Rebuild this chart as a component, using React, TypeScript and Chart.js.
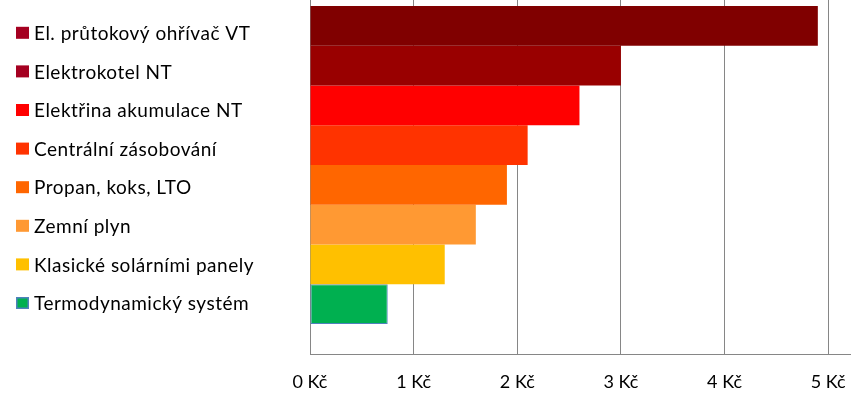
import React, { useEffect, useRef } from "react";
import { Chart, registerables } from "chart.js";

Chart.register(...registerables);

const categories = [
  "El. průtokový ohřívač VT",
  "Elektrokotel NT",
  "Elektřina akumulace NT",
  "Centrální zásobování",
  "Propan, koks, LTO",
  "Zemní plyn",
  "Klasické solárními panely",
  "Termodynamický systém",
];
const costs = [4.9, 3.0, 2.6, 2.1, 1.9, 1.6, 1.3, 0.75];
const barColors = ["#800000", "#990000", "#FF0000", "#FF3300", "#FF6600", "#FF9933", "#FFC000", "#00B050"];
const legendColors = ["#A50021", "#A50021", "#FF0000", "#FF3300", "#FF6600", "#FF9933", "#FFC000", "#00B050"];
const outlineColors = [null, null, null, null, null, null, null, "#4F81BD"];
const axisMax = 5.22;
const tickStep = 1;
const currency = "Kč";

const FONT = "Lato, 'Open Sans', sans-serif";
const CANVAS_OFFSET = 24;
const W = 851;
const H = 396 + CANVAS_OFFSET;

const sideLegend = {
  id: "sideLegend",
  afterDraw(chart: any) {
    const ctx = chart.ctx;
    ctx.save();
    ctx.font = `19px ${FONT}`;
    try {
      (ctx as any).letterSpacing = "0.5px";
    } catch (e) {}
    ctx.textBaseline = "middle";
    ctx.textAlign = "left";
    chart.data.datasets.forEach((ds: any, i: number) => {
      const cy = CANVAS_OFFSET + 32.8 + i * 38.6;
      const bx = 16;
      const bw = 13;
      const bh = 12;
      const by = cy - bh / 2;
      ctx.fillStyle = legendColors[i];
      ctx.fillRect(bx, by, bw, bh);
      if (outlineColors[i]) {
        ctx.strokeStyle = outlineColors[i] as string;
        ctx.lineWidth = 1.5;
        ctx.strokeRect(bx + 0.75, by + 0.75, bw - 1.5, bh - 1.5);
      }
      ctx.fillStyle = "#000000";
      ctx.fillText(ds.label, 34, cy + 1);
    });
    ctx.restore();
  },
};

export default function App() {
  const canvasRef = useRef<HTMLCanvasElement | null>(null);

  useEffect(() => {
    if (!canvasRef.current) return;
    const chart = new Chart(canvasRef.current, {
      type: "bar",
      data: {
        labels: [""],
        datasets: categories.map((label, i) => ({
          label,
          data: [costs[i]],
          backgroundColor: barColors[i],
          borderColor: outlineColors[i] || barColors[i],
          borderWidth: outlineColors[i] ? 1 : 0,
          borderSkipped: false,
          categoryPercentage: 0.8413,
          barPercentage: 1,
        })),
      },
      options: {
        indexAxis: "y",
        responsive: false,
        maintainAspectRatio: false,
        devicePixelRatio: 1,
        animation: false,
        layout: { padding: { left: 310, right: 0, top: 0, bottom: 0 } },
        plugins: {
          legend: { display: false },
          tooltip: { enabled: false },
        },
        scales: {
          x: {
            type: "linear",
            min: 0,
            max: axisMax,
            afterFit: (scale: any) => {
              scale.height = 42;
              scale.paddingRight = 0;
              scale.paddingLeft = 0;
            },
            ticks: {
              stepSize: tickStep,
              includeBounds: false,
              callback: (v: any) => `${v} ${currency}`,
              font: { family: FONT, size: 18 },
              color: "#000000",
              padding: 17,
              maxRotation: 0,
            },
            grid: { color: "#868686", lineWidth: 1, drawTicks: false },
            border: { color: "#868686", width: 1 },
          },
          y: {
            type: "category",
            display: false,
          },
        },
      },
      plugins: [sideLegend],
    });
    return () => chart.destroy();
  }, []);

  return (
    <div
      style={{
        position: "fixed",
        left: 0,
        top: -CANVAS_OFFSET,
        width: W,
        height: H,
        background: "#ffffff",
      }}
    >
      <canvas ref={canvasRef} width={W} height={H} style={{ width: W, height: H, display: "block" }} />
    </div>
  );
}
